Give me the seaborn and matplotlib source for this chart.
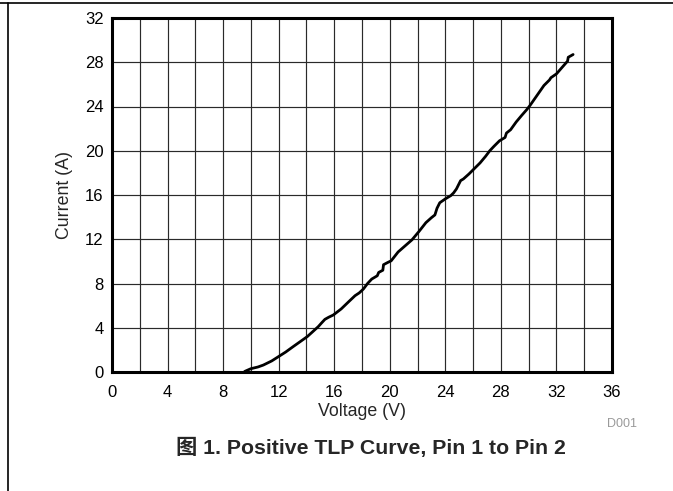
import numpy as np
import pandas as pd
import matplotlib
matplotlib.use("Agg")
import matplotlib.pyplot as plt
from matplotlib.lines import Line2D
from matplotlib.ticker import MultipleLocator
import seaborn as sns

voltage = [9.55, 10.0, 10.5, 10.9, 11.5, 12.0, 12.5, 13.05, 13.5, 14.06, 14.5, 14.85,
           15.1, 15.33, 15.6, 15.93, 16.5, 17.08, 17.5, 17.8, 18.1, 18.4, 18.7, 19.1,
           19.2, 19.5, 19.55, 19.85, 20.1, 20.6, 21.1, 21.6, 22.1, 22.6, 23.0, 23.25,
           23.4, 23.6, 24.0, 24.4, 24.6, 24.8, 25.1, 25.3, 25.7, 26.1, 26.5, 26.9,
           27.2, 27.5, 27.9, 28.3, 28.4, 28.7, 29.1, 29.5, 29.85, 30.1, 30.6, 31.1,
           31.5, 31.6, 32.0, 32.45, 32.8, 32.85, 33.2]
current = [0.05, 0.3, 0.45, 0.63, 1.0, 1.4, 1.8, 2.3, 2.7, 3.2, 3.7, 4.1,
           4.45, 4.76, 4.95, 5.15, 5.7, 6.4, 6.9, 7.15, 7.5, 8.0, 8.4, 8.7,
           9.0, 9.2, 9.7, 9.9, 10.05, 10.85, 11.4, 11.95, 12.7, 13.5, 13.95, 14.2,
           14.8, 15.3, 15.65, 15.95, 16.2, 16.55, 17.3, 17.45, 17.9, 18.4, 18.9, 19.5,
           20.0, 20.4, 20.9, 21.2, 21.6, 21.9, 22.6, 23.2, 23.7, 24.1, 25.0, 25.9,
           26.4, 26.6, 26.95, 27.6, 28.1, 28.45, 28.7]

x_ticks = list(range(0, 37, 4))
y_ticks = list(range(0, 33, 4))
x_label = "Voltage (V)"
y_label = "Current (A)"
title = "图 1. Positive TLP Curve, Pin 1 to Pin 2"
code = "D001"

sns.set_style("white")
plt.rcParams["font.family"] = ["Liberation Sans", "Noto Sans CJK SC", "DejaVu Sans"]

df = pd.DataFrame({"V": voltage, "I": current})

fig = plt.figure(figsize=(6.73, 4.91), dpi=100)
ax = fig.add_axes([112/673, 1-372/491, 500/673, 354/491])

sns.lineplot(data=df, x="V", y="I", sort=False, color="black", linewidth=2.0, ax=ax, zorder=5)

ax.set_xlim(0, 36)
ax.set_ylim(0, 32)
ax.set_xticks(x_ticks)
ax.set_yticks(y_ticks)
ax.xaxis.set_minor_locator(MultipleLocator(2))
ax.grid(True, which="major", axis="both", color="#2a2a2a", linewidth=0.85)
ax.grid(True, which="minor", axis="x", color="#2a2a2a", linewidth=0.85)
ax.tick_params(axis="both", which="both", length=0, labelsize=12, colors="black")
ax.tick_params(axis="x", pad=9.5)
ax.tick_params(axis="y", pad=6)
for s in ax.spines.values():
    s.set_visible(True)
    s.set_color("black")
    s.set_linewidth(2.2)
ax.set_xlabel(x_label, fontsize=12.8, labelpad=2)
ax.set_ylabel(y_label, fontsize=12.8, labelpad=9)

fig.text(622/673, 1-424/491, code, fontsize=9, color="#9a9a9a", ha="center", va="center")
fig.text(371/673, 1-448/491, title, fontsize=15.3, fontweight="bold", ha="center", va="center")

fig.add_artist(Line2D([0, 1], [1-3/491, 1-3/491], color="black", linewidth=1.2, transform=fig.transFigure))
fig.add_artist(Line2D([8/673, 8/673], [0, 1-3/491], color="black", linewidth=1.2, transform=fig.transFigure))

fig.savefig("out.png", dpi=100)
